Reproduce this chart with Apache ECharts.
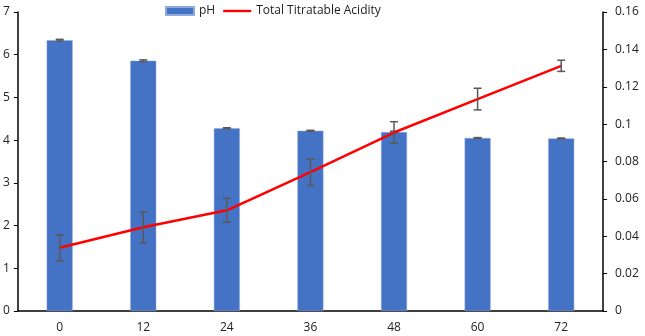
<!DOCTYPE html>
<html>
<head>
<meta charset="utf-8">
<script src="https://cdn.jsdelivr.net/npm/echarts@6/dist/echarts.min.js"></script>
<style>
html, body { margin: 0; padding: 0; background: #fff; }
#chart { width: 645px; height: 336px; }
</style>
</head>
<body>
<div id="chart"></div>
<script>
var hours = ['0', '12', '24', '36', '48', '60', '72'];
var phValues = [6.34, 5.86, 4.28, 4.22, 4.19, 4.05, 4.04];
var phErr = [0.02, 0.02, 0.01, 0.01, 0.02, 0.01, 0.01];
var ttaValues = [0.0338, 0.0448, 0.0539, 0.0743, 0.0955, 0.1134, 0.1312];
var ttaErr = [0.0069, 0.0083, 0.0064, 0.0071, 0.0058, 0.0058, 0.003];

function errRows(vals, errs) {
	return vals.map(function(v, i) { return [i, v - errs[i], v + errs[i]]; });
}

// draws an I-shaped error bar for each point
function renderErr(params, api) {
	var x = api.value(0),
		lo = api.coord([x, api.value(1)]),
		hi = api.coord([x, api.value(2)]),
		w = 4;
	var style = { stroke: '#595959', lineWidth: 1.5 };
	return {
		type: 'group',
		children: [
			{ type: 'line', shape: { x1: hi[0], y1: hi[1], x2: lo[0], y2: lo[1] }, style: style },
			{ type: 'line', shape: { x1: hi[0] - w, y1: hi[1], x2: hi[0] + w, y2: hi[1] }, style: style },
			{ type: 'line', shape: { x1: lo[0] - w, y1: lo[1], x2: lo[0] + w, y2: lo[1] }, style: style }
		]
	};
}

var font = 'Open Sans';
var chart = echarts.init(document.getElementById('chart'));
var option = {
	animation: false,
	textStyle: { fontFamily: font },
	legend: {
		top: 0,
		left: 160,
		itemWidth: 28,
		itemHeight: 8,
		itemGap: 8,
		textStyle: { fontFamily: font, fontSize: 12, color: '#222' },
		data: [
			{ name: 'pH', icon: 'rect' },
			{ name: 'Total Titratable Acidity', icon: 'path://M0,0L28,0L28,2.4L0,2.4Z' }
		]
	},
	grid: { left: 15, right: 42, top: 12, bottom: 25 },
	xAxis: {
		type: 'category',
		data: hours,
		boundaryGap: true,
		axisLine: { lineStyle: { color: '#000', width: 1.5 } },
		axisTick: { show: false },
		axisLabel: { color: '#222', fontSize: 12, margin: 11 }
	},
	yAxis: [
		{
			type: 'value', min: 0, max: 7, interval: 1,
			axisLine: { show: true, lineStyle: { color: '#000', width: 1.5 } },
			axisTick: { show: true, length: 4, lineStyle: { color: '#000' } },
			axisLabel: { color: '#222', fontSize: 12, margin: 8 },
			splitLine: { show: false }
		},
		{
			type: 'value', min: 0, max: 0.16, interval: 0.02,
			position: 'right',
			axisLine: { show: true, lineStyle: { color: '#000', width: 1.5 } },
			axisTick: { show: true, length: 4, lineStyle: { color: '#000' } },
			axisLabel: { color: '#222', fontSize: 12, margin: 12 },
			splitLine: { show: false }
		}
	],
	series: [
		{
			name: 'pH',
			type: 'bar',
			data: phValues,
			barWidth: 26,
			itemStyle: { color: '#4472C4', borderColor: '#8FAADC', borderWidth: 0.5 }
		},
		{
			type: 'custom',
			renderItem: renderErr,
			data: errRows(phValues, phErr),
			encode: { x: 0, y: [1, 2] },
			z: 5,
			silent: true
		},
		{
			name: 'Total Titratable Acidity',
			type: 'line',
			yAxisIndex: 1,
			data: ttaValues,
			symbol: 'none',
			lineStyle: { color: '#FF0000', width: 2.5 },
			itemStyle: { color: '#FF0000' },
			z: 6
		},
		{
			type: 'custom',
			yAxisIndex: 1,
			renderItem: renderErr,
			data: errRows(ttaValues, ttaErr),
			encode: { x: 0, y: [1, 2] },
			z: 7,
			silent: true
		}
	]
};
chart.setOption(option);
window.addEventListener('resize', chart.resize);
</script>
</body>
</html>
